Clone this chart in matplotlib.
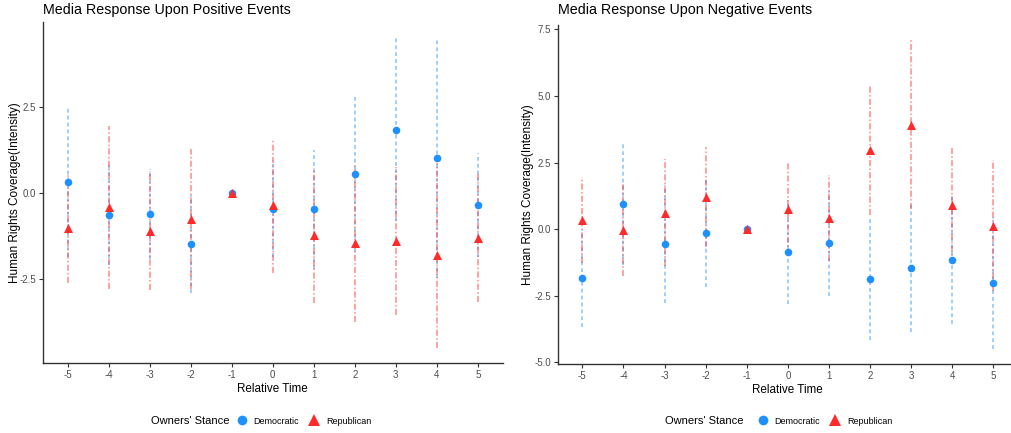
import numpy as np
import matplotlib
matplotlib.use("Agg")
import matplotlib.pyplot as plt
from matplotlib.lines import Line2D

plt.rcParams['font.family'] = ['Liberation Sans', 'DejaVu Sans']
plt.rcParams['axes.unicode_minus'] = False

# ---------------- data ----------------
rel_time = [-5, -4, -3, -2, -1, 0, 1, 2, 3, 4, 5]

pos_dem = [0.32, -0.64, -0.61, -1.48, 0.0, -0.45, -0.47, 0.55, 1.83, 1.02, -0.35]
pos_dem_hi = [2.50, 0.80, 0.70, -0.06, 0.0, 0.95, 1.25, 2.82, 4.48, 4.50, 1.16]
pos_dem_lo = [-1.86, -2.08, -1.92, -2.90, 0.0, -1.85, -2.19, -1.72, -0.82, -2.46, -1.86]
pos_rep = [-1.01, -0.40, -1.09, -0.75, 0.0, -0.35, -1.22, -1.46, -1.39, -1.80, -1.30]
pos_rep_hi = [0.59, 1.95, 0.64, 1.28, 0.0, 1.57, 0.73, 0.80, 0.76, 0.87, 0.54]
pos_rep_lo = [-2.61, -2.77, -2.82, -2.78, 0.0, -2.30, -3.19, -3.72, -3.54, -4.47, -3.14]

neg_dem = [-1.85, 0.96, -0.56, -0.15, 0.0, -0.86, -0.54, -1.89, -1.47, -1.16, -2.01]
neg_dem_hi = [-0.02, 3.26, 1.67, 1.86, 0.0, 1.11, 1.42, 0.40, 0.91, 1.24, 0.47]
neg_dem_lo = [-3.68, -1.34, -2.79, -2.16, 0.0, -2.83, -2.50, -4.18, -3.85, -3.56, -4.49]
neg_rep = [0.34, -0.04, 0.62, 1.21, 0.0, 0.75, 0.41, 2.97, 3.93, 0.90, 0.12]
neg_rep_hi = [1.97, 1.69, 2.62, 3.09, 0.0, 2.49, 2.03, 5.40, 7.09, 3.12, 2.58]
neg_rep_lo = [-1.29, -1.77, -1.38, -0.67, 0.0, -0.99, -1.21, 0.54, 0.77, -1.32, -2.34]

titles = ["Media Response Upon Positive Events", "Media Response Upon Negative Events"]
pos_yticks = [-2.5, 0.0, 2.5]
neg_yticks = [-5.0, -2.5, 0.0, 2.5, 5.0, 7.5]
series_labels = ["Democratic", "Republican"]
legend_title = "Owners' Stance"

BLUE = "#1E90FF"
RED = "#FF2B2B"
W, H = 1011, 433

fig = plt.figure(figsize=(W / 100, H / 100), dpi=100)

def frac(x0, y0, x1, y1):
    return [x0 / W, 1 - y1 / H, (x1 - x0) / W, (y1 - y0) / H]

ax1 = fig.add_axes(frac(43, 22, 502.5, 363))
ax2 = fig.add_axes(frac(557.7, 25, 1018, 364))

def draw(ax, dem, dlo, dhi, rep, rlo, rhi, yticks, title, title_px, ylab_px, ax_left, ax_w):
    x = np.array(rel_time, dtype=float)
    ax.vlines(x, dlo, dhi, colors=BLUE, linestyles=(0, (2.5, 2.0)), linewidth=1.1, alpha=0.55, zorder=2)
    ax.vlines(x, rlo, rhi, colors=RED, linestyles=(0, (4, 1.5, 1, 1.5)), linewidth=1.1, alpha=0.55, zorder=3)
    ax.scatter(x, dem, s=30, marker='o', color=BLUE, zorder=4, linewidths=0)
    ax.scatter(x, rep, s=42, marker='^', color=RED, zorder=5, linewidths=0)
    lo = min(min(dlo), min(rlo)); hi = max(max(dhi), max(rhi))
    pad = 0.05 * (hi - lo)
    ax.set_ylim(lo - pad, hi + pad)
    ax.set_xlim(-5.6, 5.6)
    ax.set_xticks(rel_time)
    ax.set_xticklabels([str(v) for v in rel_time])
    ax.set_yticks(yticks)
    ax.set_yticklabels([f"{v:.1f}" for v in yticks])
    for s in ['top', 'right']:
        ax.spines[s].set_visible(False)
    for s in ['left', 'bottom']:
        ax.spines[s].set_color('#333333')
        ax.spines[s].set_linewidth(1.0)
    ax.tick_params(axis='both', colors='#333333', labelcolor='#4D4D4D', labelsize=7, length=3, width=0.8, pad=2)
    ax.set_xlabel("Relative Time", fontsize=8.4, labelpad=2)
    ax.set_ylabel("Human Rights Coverage(Intensity)", fontsize=8.45)
    ax.yaxis.set_label_coords((ylab_px - ax_left) / ax_w, 0.5)
    ax.yaxis.label.set_verticalalignment('center')
    fig.text(title_px / W, 1 - 10 / H, title, fontsize=10.3, ha='left', va='center')

draw(ax1, pos_dem, pos_dem_lo, pos_dem_hi, pos_rep, pos_rep_lo, pos_rep_hi, pos_yticks, titles[0], 43, 15.5, 43, 459.5)
draw(ax2, neg_dem, neg_dem_lo, neg_dem_hi, neg_rep, neg_rep_lo, neg_rep_hi, neg_yticks, titles[1], 558, 527.5, 557.7, 460.3)

handles = [Line2D([], [], ls='none', marker='o', color=BLUE, markersize=7, markeredgewidth=0),
           Line2D([], [], ls='none', marker='^', color=RED, markersize=9, markeredgewidth=0)]

for tx, lx in [(151, 237), (665, 758)]:
    fig.text(tx / W, 1 - 421 / H, legend_title, fontsize=8, va='center', ha='left')
    fig.legend(handles, series_labels, loc='center left', bbox_to_anchor=(lx / W, 1 - 421 / H),
               ncol=2, frameon=False, fontsize=6.5, handlelength=1.0, handletextpad=0.8,
               columnspacing=1.2, borderpad=0, borderaxespad=0)

fig.savefig("out.png", dpi=100)
